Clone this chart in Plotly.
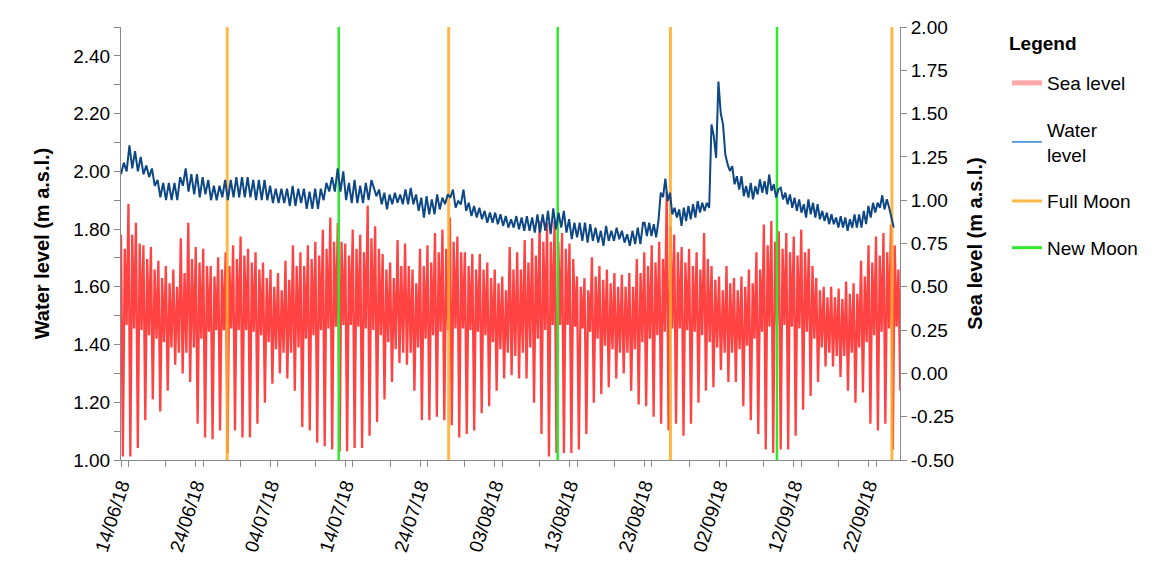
import pandas as pd
import plotly.graph_objects as go

# ---------------- data ----------------
# Water level (m a.s.l.), successive highs/lows, three segments of the record
wl_a_start, wl_a_end = "2018-06-14 00:00", "2018-07-17 12:00"
wl_a = [1.99, 2.03, 2.00,
        2.09, 2.01, 2.07, 2.00, 2.05, 1.99, 2.02, 1.98, 2.01, 1.95,
        1.97, 1.91, 1.96, 1.90, 1.96, 1.90, 1.96, 1.90, 1.98, 1.95,
        2.01, 1.93, 1.99, 1.92, 1.99, 1.91, 1.98, 1.92, 1.97, 1.90,
        1.95, 1.90, 1.95, 1.91, 1.97, 1.90, 1.97, 1.91, 1.98, 1.91,
        1.98, 1.91, 1.98, 1.91, 1.97, 1.90, 1.97, 1.90, 1.97, 1.90,
        1.95, 1.89, 1.94, 1.89, 1.94, 1.89, 1.94, 1.88, 1.95, 1.88,
        1.94, 1.89, 1.94, 1.87, 1.93, 1.87, 1.94, 1.87, 1.94, 1.90,
        1.96, 1.93, 1.98, 1.93, 2.01, 1.93, 2.00, 1.90, 1.96, 1.89,
        1.97, 1.89, 1.95, 1.89, 1.96, 1.90, 1.97]

wl_b_start, wl_b_end = "2018-07-18 04:00", "2018-08-22 20:00"
wl_b = [1.914, 1.937, 1.886, 1.926, 1.868, 1.920, 1.886, 1.926, 1.891, 1.920,
        1.886, 1.937, 1.886, 1.943, 1.886, 1.920, 1.863, 1.909, 1.840, 1.914,
        1.851, 1.903, 1.851, 1.920, 1.868, 1.909, 1.886, 1.920, 1.909, 1.937,
        1.874, 1.897, 1.886, 1.937, 1.863, 1.891, 1.845, 1.880, 1.840, 1.874,
        1.834, 1.863, 1.822, 1.857, 1.822, 1.857, 1.817, 1.851, 1.811, 1.845,
        1.805, 1.834, 1.805, 1.845, 1.799, 1.840, 1.794, 1.845, 1.794, 1.840,
        1.788, 1.851, 1.788, 1.851, 1.794, 1.863, 1.782, 1.872, 1.799, 1.857,
        1.805, 1.863, 1.788, 1.834, 1.765, 1.822, 1.771, 1.822, 1.759, 1.822,
        1.753, 1.817, 1.759, 1.805, 1.753, 1.794, 1.742, 1.811, 1.759, 1.794,
        1.759, 1.805, 1.765, 1.794, 1.753, 1.782, 1.742, 1.794, 1.748, 1.805,
        1.748, 1.822]

wl_c_start, wl_c_end = "2018-08-23 01:00", "2018-09-25 09:00"
wl_c = [1.822, 1.776, 1.822, 1.776, 1.817, 1.771, 1.828, 1.926, 1.911, 1.975,
        1.897, 1.926, 1.851, 1.874, 1.840, 1.868, 1.811, 1.874, 1.828, 1.880,
        1.834, 1.886, 1.840, 1.897, 1.857, 1.891, 1.863, 1.891, 1.874, 2.162,
        2.122, 2.047, 2.311, 2.202, 2.162, 2.058, 2.024, 2.001, 2.018, 1.955,
        1.983, 1.937, 1.983, 1.914, 1.949, 1.909, 1.960, 1.903, 1.949, 1.920,
        1.972, 1.926, 1.966, 1.920, 1.989, 1.932, 1.955, 1.909, 1.937, 1.943,
        1.903, 1.926, 1.886, 1.920, 1.874, 1.909, 1.863, 1.903, 1.857, 1.886,
        1.840, 1.903, 1.851, 1.891, 1.840, 1.886, 1.834, 1.863, 1.828, 1.857,
        1.817, 1.851, 1.817, 1.840, 1.805, 1.845, 1.805, 1.840, 1.794, 1.834,
        1.805, 1.851, 1.805, 1.851, 1.805, 1.863, 1.817, 1.880, 1.840, 1.891,
        1.857, 1.891, 1.874, 1.917, 1.868, 1.903, 1.874, 1.840, 1.805]

# Sea level (m a.s.l.), one value of each tide per day from 14/06/18
sea_start = "2018-06-14 00:00"
sea_high1 = [0.80, 0.98, 0.87, 0.74, 0.73, 0.65, 0.62, 0.60, 0.78, 0.87,
             0.73, 0.72, 0.62, 0.67, 0.70, 0.74, 0.79, 0.72, 0.70, 0.64,
             0.60, 0.58, 0.65, 0.74, 0.70, 0.74, 0.76, 0.83, 0.90, 0.87,
             0.75, 0.83, 0.80, 0.97, 0.85, 0.69, 0.64, 0.77, 0.75, 0.60,
             0.72, 0.74, 0.81, 0.83, 0.90, 0.79, 0.70, 0.69, 0.69, 0.64,
             0.60, 0.56, 0.73, 0.70, 0.77, 0.78, 0.88, 0.87, 0.88, 0.81,
             0.75, 0.56, 0.55, 0.67, 0.62, 0.60, 0.58, 0.57, 0.58, 0.66,
             0.70, 0.74, 0.76, 1.05, 0.80, 0.73, 0.72, 0.70, 0.81, 0.62,
             0.56, 0.62, 0.55, 0.56, 0.60, 0.70, 0.86, 0.88, 0.82, 0.81,
             0.79, 0.83, 0.72, 0.55, 0.50, 0.50, 0.49, 0.53, 0.52, 0.65,
             0.74, 0.79, 0.81, 0.86, 0.60]
sea_low1 = [-0.48, -0.48, -0.43, -0.27, -0.15, -0.22, -0.10, 0.05, 0.00, -0.05,
            -0.29, -0.37, -0.38, -0.33, -0.46, -0.33, -0.37, -0.37, -0.29, -0.17,
            -0.06, 0.00, -0.03, -0.10, -0.31, -0.33, -0.40, -0.42, -0.44, -0.45,
            -0.45, -0.43, -0.43, -0.36, -0.28, -0.15, -0.05, 0.06, 0.05, -0.10,
            -0.27, -0.27, -0.25, -0.27, -0.30, -0.37, -0.35, -0.33, -0.23, -0.19,
            -0.10, -0.03, -0.01, -0.03, -0.03, -0.17, -0.35, -0.48, -0.46, -0.46,
            -0.46, -0.44, -0.35, -0.17, -0.12, -0.08, -0.03, 0.00, -0.10, -0.18,
            -0.19, -0.25, -0.29, -0.33, -0.29, -0.36, -0.29, -0.17, -0.10, -0.08,
            0.02, -0.05, -0.05, -0.19, -0.27, -0.35, -0.44, -0.46, -0.44, -0.44,
            -0.36, -0.21, -0.13, -0.05, 0.04, 0.04, -0.02, -0.10, -0.17, -0.11,
            -0.29, -0.33, -0.29, -0.44, -0.10]
sea_high2 = [0.72, 0.80, 0.75, 0.66, 0.60, 0.55, 0.52, 0.50, 0.58, 0.66,
             0.64, 0.62, 0.56, 0.60, 0.62, 0.66, 0.68, 0.64, 0.60, 0.55,
             0.50, 0.48, 0.54, 0.62, 0.62, 0.66, 0.68, 0.72, 0.76, 0.76,
             0.68, 0.72, 0.70, 0.78, 0.72, 0.60, 0.55, 0.62, 0.62, 0.52,
             0.62, 0.64, 0.70, 0.72, 0.76, 0.70, 0.62, 0.60, 0.60, 0.55,
             0.52, 0.48, 0.60, 0.60, 0.64, 0.68, 0.76, 0.76, 0.76, 0.72,
             0.66, 0.50, 0.48, 0.56, 0.54, 0.52, 0.50, 0.50, 0.50, 0.58,
             0.62, 0.64, 0.66, 0.85, 0.70, 0.64, 0.62, 0.60, 0.66, 0.54,
             0.48, 0.52, 0.48, 0.50, 0.52, 0.60, 0.74, 0.76, 0.72, 0.70,
             0.68, 0.70, 0.62, 0.48, 0.44, 0.44, 0.43, 0.46, 0.46, 0.56,
             0.64, 0.68, 0.70, 0.74, 0.52]
sea_low2 = [0.28, 0.26, 0.25, 0.22, 0.20, 0.18, 0.15, 0.12, 0.12, 0.15,
            0.20, 0.24, 0.25, 0.25, 0.26, 0.25, 0.25, 0.24, 0.22, 0.18,
            0.14, 0.12, 0.12, 0.15, 0.20, 0.22, 0.25, 0.26, 0.27, 0.28,
            0.28, 0.27, 0.26, 0.25, 0.22, 0.18, 0.14, 0.12, 0.12, 0.15,
            0.20, 0.22, 0.24, 0.25, 0.26, 0.26, 0.25, 0.24, 0.22, 0.18,
            0.14, 0.12, 0.10, 0.12, 0.15, 0.20, 0.25, 0.28, 0.28, 0.28,
            0.27, 0.26, 0.24, 0.20, 0.16, 0.14, 0.12, 0.12, 0.14, 0.18,
            0.20, 0.22, 0.24, 0.26, 0.26, 0.25, 0.24, 0.22, 0.18, 0.15,
            0.12, 0.12, 0.14, 0.16, 0.20, 0.24, 0.27, 0.28, 0.28, 0.27,
            0.26, 0.24, 0.20, 0.15, 0.12, 0.10, 0.10, 0.12, 0.15, 0.18,
            0.22, 0.24, 0.26, 0.27, 0.20]

full_moons = ["2018-06-28 05:00", "2018-07-27 20:00", "2018-08-26 12:00", "2018-09-25 03:00"]
new_moons = ["2018-07-13 03:00", "2018-08-11 10:00", "2018-09-09 18:00"]

x_range = ["2018-06-14 00:00", "2018-09-26 05:00"]
wl_range = [1.0, 2.5]
wl_ticks = [1.0, 1.2, 1.4, 1.6, 1.8, 2.0, 2.2, 2.4]
wl_ticktext = ["1.00", "1.20", "1.40", "1.60", "1.80", "2.00", "2.20", "2.40"]
sea_range = [-0.5, 2.0]
sea_ticks = [-0.5, -0.25, 0.0, 0.25, 0.5, 0.75, 1.0, 1.25, 1.5, 1.75, 2.0]
sea_ticktext = ["-0.50", "-0.25", "0.00", "0.25", "0.50", "0.75", "1.00",
                "1.25", "1.50", "1.75", "2.00"]

# ---------------- build series ----------------
wl_x, wl_y = [], []
for s, e, vals in [(wl_a_start, wl_a_end, wl_a), (wl_b_start, wl_b_end, wl_b),
                   (wl_c_start, wl_c_end, wl_c)]:
    wl_x.extend(pd.date_range(s, e, periods=len(vals)))
    wl_y.extend(vals)

sea_y = []
for h1, l1, h2, l2 in zip(sea_high1, sea_low1, sea_high2, sea_low2):
    sea_y.extend([h1, l1, h2, l2])
sea_x = pd.date_range(sea_start, periods=len(sea_y), freq="6h")

FONT = "Liberation Sans, Arial, sans-serif"
RED = "rgba(255,0,0,0.74)"
BLUE = "#0d4785"
ORANGE = "rgba(255,172,40,0.85)"
GREEN = "#2ee82e"

fig = go.Figure()

# sea level (right axis = main y)
fig.add_trace(go.Scatter(x=sea_x, y=sea_y, mode="lines", yaxis="y",
                         line=dict(color=RED, width=2.3), showlegend=False,
                         hoverinfo="skip"))

# moon lines on a hidden 0..1 axis spanning the plot height
for d in full_moons:
    fig.add_trace(go.Scatter(x=[d, d], y=[0, 1], yaxis="y2", mode="lines",
                             line=dict(color=ORANGE, width=3), showlegend=False))
for d in new_moons:
    fig.add_trace(go.Scatter(x=[d, d], y=[0, 1], yaxis="y2", mode="lines",
                             line=dict(color=GREEN, width=2.5), showlegend=False))

# water level (left axis)
fig.add_trace(go.Scatter(x=wl_x, y=wl_y, mode="lines", yaxis="y3",
                         line=dict(color=BLUE, width=2), showlegend=False))

# legend entries
legend_items = [("Sea level", dict(color="rgba(255,0,0,0.35)", width=5)),
                ("Water<br>level", dict(color="#2f86d6", width=1.5)),
                ("Full Moon", dict(color=ORANGE, width=3)),
                ("New Moon", dict(color=GREEN, width=3))]
for i, (name, ln) in enumerate(legend_items):
    fig.add_trace(go.Scatter(x=[None], y=[None], mode="lines", yaxis="y3",
                             name=name, line=ln, legendgroup=f"g{i}"))

axis_common = dict(showline=True, linecolor="#8a8a8a", linewidth=1,
                   ticks="outside", tickcolor="#8a8a8a", ticklen=6,
                   showgrid=False, zeroline=False, automargin=False,
                   tickfont=dict(family=FONT, size=19, color="black"))

fig.update_layout(
    width=1153, height=556,
    margin=dict(l=113, r=261, t=19, b=104),
    paper_bgcolor="white", plot_bgcolor="white",
    font=dict(family=FONT, size=19, color="black"),
    xaxis=dict(type="date", range=x_range, tick0="2018-06-14",
               dtick=10 * 86400000, tickformat="%d/%m/%y", tickangle=-72,
               minor=dict(dtick=5 * 86400000, ticks="outside", ticklen=6,
                          tickcolor="#8a8a8a"),
               **axis_common),
    yaxis=dict(range=sea_range, side="right", tickvals=sea_ticks,
               ticktext=sea_ticktext,
               title=dict(text="<b>Sea level (m a.s.l.)</b>", standoff=14,
                          font=dict(family=FONT, size=20, color="black")),
               **axis_common),
    yaxis2=dict(range=[0, 1], overlaying="y", visible=False),
    yaxis3=dict(range=wl_range, overlaying="y", side="left", tickvals=wl_ticks,
                ticktext=wl_ticktext,
                minor=dict(dtick=0.1, ticks="outside", ticklen=6,
                           tickcolor="#8a8a8a"),
                title=dict(text="<b>Water level (m a.s.l.)</b>", standoff=18,
                           font=dict(family=FONT, size=20, color="black")),
                **axis_common),
    legend=dict(x=1.1374, xanchor="left", y=0.9145, yanchor="top",
                font=dict(family=FONT, size=19, color="black"),
                traceorder="grouped", tracegroupgap=19, itemwidth=30,
                bgcolor="rgba(0,0,0,0)"),
    annotations=[dict(text="<b>Legend</b>", xref="paper", yref="paper",
                      x=1.1374, y=0.963, xanchor="left", yanchor="middle",
                      showarrow=False,
                      font=dict(family=FONT, size=19, color="black"))],
)

fig.write_html("out.html")
